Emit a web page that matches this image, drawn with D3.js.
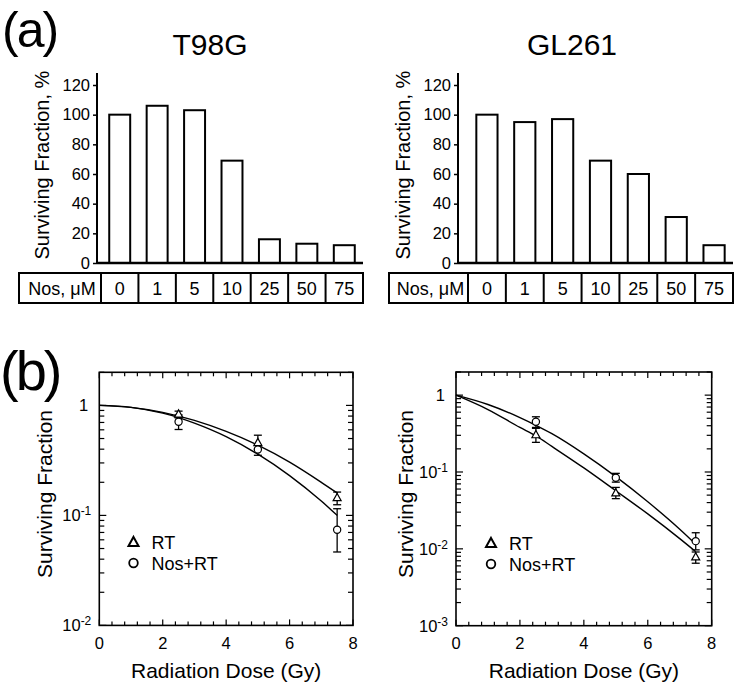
<!DOCTYPE html>
<html><head><meta charset="utf-8">
<script src="https://cdn.jsdelivr.net/npm/d3@7"></script>
<style>
body{margin:0;background:#fff;}
text{font-family:"Liberation Sans",Arial,Helvetica,sans-serif;fill:#000;}
</style></head>
<body><div id="chart"></div>
<script>
// ---------- DATA ----------
const nosConc = ["0","1","5","10","25","50","75"];
const t98gSurvival = [100, 106, 103, 69, 16, 13, 12];
const gl261Survival = [100, 95, 97, 69, 60, 31, 12];
const barTickValues = [0, 20, 40, 60, 80, 100, 120];

const doses = [2.5, 5, 7.5];
// T98G
const t98gRT = [0.83, 0.457, 0.144];
const t98gRTLo = [0.77, 0.40, 0.125];
const t98gRTHi = [0.887, 0.536, 0.163];
const t98gNosRT = [0.71, 0.397, 0.074];
const t98gNosRTLo = [0.604, 0.352, 0.0465];
const t98gNosRTHi = [0.82, 0.44, 0.115];
// GL261
const gl261RT = [0.303, 0.053, 0.0078];
const gl261RTLo = [0.243, 0.045, 0.0065];
const gl261RTHi = [0.37, 0.063, 0.0091];
const gl261NosRT = [0.451, 0.0841, 0.0126];
const gl261NosRTLo = [0.38, 0.0738, 0.0097];
const gl261NosRTHi = [0.523, 0.096, 0.0162];
// fitted curves
const fitDoses = [0, 1, 2, 2.5, 3, 4, 5, 6, 7, 7.5];
const t98gRTFit = [1, 0.96, 0.865, 0.80, 0.73, 0.58, 0.435, 0.305, 0.20, 0.16];
const t98gNosRTFit = [1, 0.96, 0.85, 0.775, 0.69, 0.52, 0.36, 0.23, 0.135, 0.10];
const gl261RTFit = [1, 0.65, 0.38, 0.295, 0.215, 0.113, 0.057, 0.0285, 0.0136, 0.0092];
const gl261NosRTFit = [1, 0.755, 0.51, 0.405, 0.315, 0.172, 0.087, 0.041, 0.018, 0.0115];
const doseTicks = [0, 2, 4, 6, 8];

// ---------- DRAW ----------
const svg = d3.select("#chart").append("svg").attr("width", 735).attr("height", 685);

svg.append("text").attr("x", 2).attr("y", 47).attr("font-size", 50).attr("letter-spacing", -2).text("(a)");
svg.append("text").attr("x", 0).attr("y", 390).attr("font-size", 56).attr("letter-spacing", -3).text("(b)");

function barPanel(o) {
  const g = svg.append("g");
  const y = d3.scaleLinear().domain([0, 120]).range([263, 85]);
  const x = d3.scaleBand().domain(nosConc).range([o.labelRight, o.tableRight]).paddingInner(0.44).paddingOuter(0.22);
  g.append("text").attr("x", o.titleX).attr("y", 55).attr("text-anchor", "middle").attr("font-size", 30).text(o.title);
  g.append("text").attr("transform", `translate(${o.axisX - 48},${y(66)}) rotate(-90)`)
    .attr("text-anchor", "middle").attr("font-size", 20).text("Surviving Fraction, %");
  g.selectAll("rect.bar").data(o.values).join("rect").attr("class", "bar")
    .attr("x", (d, i) => x(nosConc[i])).attr("width", x.bandwidth())
    .attr("y", d => y(d)).attr("height", d => y(0) - y(d))
    .attr("fill", "#fff").attr("stroke", "#000").attr("stroke-width", 2);
  const ax = g.append("g").attr("transform", `translate(${o.axisX},0)`)
    .call(d3.axisLeft(y).tickValues(barTickValues).tickSize(4).tickPadding(3));
  ax.select(".domain").remove();
  ax.selectAll("line").attr("stroke-width", 1.5);
  ax.selectAll("text").attr("font-size", 16.5).attr("font-family", "Liberation Sans, Arial, sans-serif");
  g.append("line").attr("x1", o.axisX).attr("x2", o.axisX).attr("y1", y(0)).attr("y2", 73)
    .attr("stroke", "#000").attr("stroke-width", 2);
  g.append("line").attr("x1", o.axisX).attr("x2", o.tableRight).attr("y1", y(0)).attr("y2", y(0))
    .attr("stroke", "#000").attr("stroke-width", 2.5);
  const tTop = 273, tBot = 303;
  g.append("rect").attr("x", o.tableLeft).attr("y", tTop).attr("width", o.tableRight - o.tableLeft)
    .attr("height", tBot - tTop).attr("fill", "none").attr("stroke", "#000").attr("stroke-width", 2);
  nosConc.forEach((c, i) => {
    const xl = o.labelRight + i * x.step();
    g.append("line").attr("x1", xl).attr("x2", xl).attr("y1", tTop).attr("y2", tBot)
      .attr("stroke", "#000").attr("stroke-width", 2);
    g.append("text").attr("x", x(c) + x.bandwidth() / 2).attr("y", 295).attr("text-anchor", "middle")
      .attr("font-size", 18).text(c);
  });
  g.append("text").attr("x", (o.tableLeft + o.labelRight) / 2 + 2).attr("y", 295).attr("text-anchor", "middle")
    .attr("font-size", 18).text("Nos, \u03bcM");
}

barPanel({title: "T98G", titleX: 210, values: t98gSurvival, axisX: 97, tableLeft: 19, labelRight: 101, tableRight: 363});
barPanel({title: "GL261", titleX: 572, values: gl261Survival, axisX: 458, tableLeft: 389, labelRight: 468, tableRight: 733});

function triPath(cx, cy, s) {
  const h = s * 0.9;
  return `M${cx},${cy - h * 0.62}L${cx + s / 2},${cy + h * 0.38}L${cx - s / 2},${cy + h * 0.38}Z`;
}

function curvePanel(o) {
  const g = svg.append("g");
  const x = d3.scaleLinear().domain([0, 8]).range([o.left, o.right]);
  const y = d3.scaleLog().domain([o.ymin, 2]).range([o.bottom, o.top]);
  g.append("rect").attr("x", o.left).attr("y", o.top).attr("width", o.right - o.left).attr("height", o.bottom - o.top)
    .attr("fill", "none").attr("stroke", "#000").attr("stroke-width", 1.6);
  const xt = d3.range(0, 8.001, 0.4);
  xt.forEach(v => {
    const major = Math.abs(v / 2 - Math.round(v / 2)) < 1e-6;
    const len = major ? 6 : 4;
    g.append("line").attr("x1", x(v)).attr("x2", x(v)).attr("y1", o.bottom).attr("y2", o.bottom - len).attr("stroke", "#000").attr("stroke-width", 1.2);
    g.append("line").attr("x1", x(v)).attr("x2", x(v)).attr("y1", o.top).attr("y2", o.top + len).attr("stroke", "#000").attr("stroke-width", 1.2);
  });
  doseTicks.forEach(v => {
    g.append("text").attr("x", x(v)).attr("y", 649).attr("text-anchor", "middle").attr("font-size", 16.5).text(v);
  });
  y.ticks().filter(v => v <= 2).forEach(v => {
    const lg = Math.log10(v);
    const major = Math.abs(lg - Math.round(lg)) < 1e-6;
    const len = major ? 7 : 5;
    g.append("line").attr("x1", o.left).attr("x2", o.left + len).attr("y1", y(v)).attr("y2", y(v)).attr("stroke", "#000").attr("stroke-width", 1.2);
    g.append("line").attr("x1", o.right).attr("x2", o.right - len).attr("y1", y(v)).attr("y2", y(v)).attr("stroke", "#000").attr("stroke-width", 1.2);
    if (major) {
      const e = Math.round(lg);
      const t = g.append("text").attr("x", o.left - 8).attr("y", y(v) + 6).attr("text-anchor", "end").attr("font-size", 16.5);
      if (e === 0) t.attr("x", o.left - 11).text("1");
      else {
        t.append("tspan").text("10");
        t.append("tspan").attr("dy", -6).attr("font-size", 12).text("-" + (-e));
      }
    }
  });
  g.append("text").attr("x", (o.left + o.right) / 2).attr("y", 678).attr("text-anchor", "middle").attr("font-size", 21).text("Radiation Dose (Gy)");
  g.append("text").attr("transform", `translate(${o.ylabX},494) rotate(-90)`).attr("text-anchor", "middle").attr("font-size", 21).text("Surviving Fraction");
  const line = d3.line().x(d => x(d[0])).y(d => y(d[1])).curve(d3.curveMonotoneX);
  [o.fitA, o.fitB].forEach(f => {
    g.append("path").attr("d", line(fitDoses.map((d, i) => [d, f[i]])))
      .attr("fill", "none").attr("stroke", "#000").attr("stroke-width", 1.4);
  });
  function errs(lo, hi) {
    doses.forEach((d, i) => {
      const cx = x(d);
      g.append("line").attr("x1", cx).attr("x2", cx).attr("y1", y(lo[i])).attr("y2", y(hi[i])).attr("stroke", "#000").attr("stroke-width", 1.3);
      [lo[i], hi[i]].forEach(v => g.append("line").attr("x1", cx - 4).attr("x2", cx + 4).attr("y1", y(v)).attr("y2", y(v)).attr("stroke", "#000").attr("stroke-width", 1.3));
    });
  }
  errs(o.rtLo, o.rtHi);
  errs(o.nosLo, o.nosHi);
  doses.forEach((d, i) => {
    g.append("path").attr("d", triPath(x(d), y(o.rt[i]), 8)).attr("fill", "#fff").attr("stroke", "#000").attr("stroke-width", 1.2);
    g.append("circle").attr("cx", x(d)).attr("cy", y(o.nos[i])).attr("r", 3.6).attr("fill", "#fff").attr("stroke", "#000").attr("stroke-width", 1.2);
  });
  g.append("path").attr("d", triPath(o.legX, o.legY, 10)).attr("fill", "none").attr("stroke", "#000").attr("stroke-width", 2);
  g.append("circle").attr("cx", o.legX).attr("cy", o.legY + 20.5).attr("r", 4.3).attr("fill", "none").attr("stroke", "#000").attr("stroke-width", 1.8);
  g.append("text").attr("x", o.legX + 18).attr("y", o.legY + 6.5).attr("font-size", 18).text("RT");
  g.append("text").attr("x", o.legX + 18).attr("y", o.legY + 27).attr("font-size", 18).text("Nos+RT");
}

curvePanel({left: 99.3, right: 353, top: 372.3, bottom: 625.4, ymin: 0.01, ylabX: 52,
  rt: t98gRT, rtLo: t98gRTLo, rtHi: t98gRTHi, nos: t98gNosRT, nosLo: t98gNosRTLo, nosHi: t98gNosRTHi,
  fitA: t98gRTFit, fitB: t98gNosRTFit, legX: 133.5, legY: 542.5});
curvePanel({left: 456, right: 711.7, top: 372, bottom: 625.7, ymin: 0.001, ylabX: 413,
  rt: gl261RT, rtLo: gl261RTLo, rtHi: gl261RTHi, nos: gl261NosRT, nosLo: gl261NosRTLo, nosHi: gl261NosRTHi,
  fitA: gl261RTFit, fitB: gl261NosRTFit, legX: 491, legY: 543.5});
</script></body></html>
